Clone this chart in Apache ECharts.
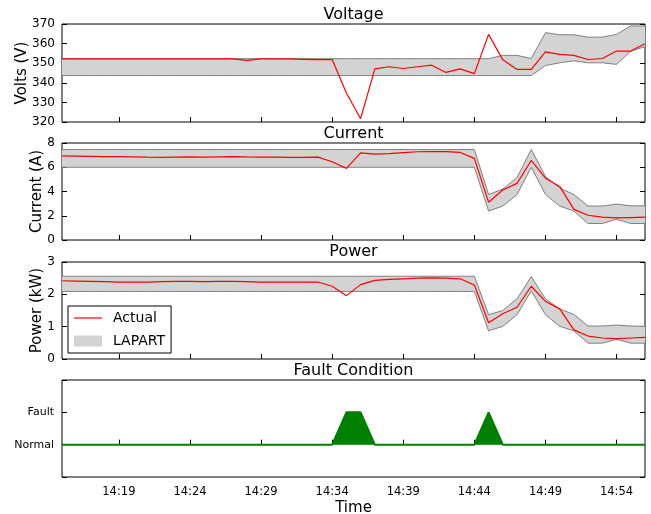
<!DOCTYPE html>
<html>
<head>
<meta charset="utf-8">
<script src="https://cdn.jsdelivr.net/npm/echarts@6/dist/echarts.min.js"></script>
<style>html,body{margin:0;padding:0;background:#fff;}#c{width:651px;height:514px;}</style>
</head>
<body>
<div id="c"></div>
<script>
var times = ["14:15","14:16","14:17","14:18","14:19","14:20","14:21","14:22","14:23","14:24","14:25","14:26","14:27","14:28","14:29","14:30","14:31","14:32","14:33","14:34","14:35","14:36","14:37","14:38","14:39","14:40","14:41","14:42","14:43","14:44","14:45","14:46","14:47","14:48","14:49","14:50","14:51","14:52","14:53","14:54","14:55","14:56"];

var voltageActual = [352.2,352.2,352.2,352.2,352.2,352.2,352.2,352.2,352.2,352.2,352.2,352.2,352.2,351.4,352.2,352.2,352.2,352.0,351.8,351.9,334.8,321.7,347.1,348.2,347.3,348.2,349.0,345.3,347.1,344.7,364.7,351.7,346.8,346.8,355.8,354.5,354.0,351.9,352.4,356.2,356.2,359.9];
var voltageUpper = [352.3,352.3,352.3,352.3,352.3,352.3,352.3,352.3,352.3,352.3,352.3,352.3,352.3,352.3,352.3,352.3,352.3,352.3,352.3,352.3,352.3,352.3,352.3,352.3,352.3,352.3,352.3,352.3,352.3,352.3,352.3,354.0,354.0,352.4,365.6,364.5,364.5,363.3,363.3,364.7,369.0,369.0];
var voltageLower = [343.7,343.7,343.7,343.7,343.7,343.7,343.7,343.7,343.7,343.7,343.7,343.7,343.7,343.7,343.7,343.7,343.7,343.7,343.7,343.7,343.7,343.7,343.7,343.7,343.7,343.7,343.7,343.7,343.7,343.7,343.7,343.7,343.7,343.7,348.8,350.2,351.2,350.2,350.2,349.4,356.2,358.4];

var currentActual = [6.94,6.92,6.90,6.88,6.87,6.85,6.83,6.82,6.84,6.85,6.84,6.86,6.87,6.85,6.84,6.83,6.82,6.82,6.84,6.45,5.91,7.19,7.08,7.13,7.21,7.28,7.29,7.29,7.22,6.73,3.12,4.12,4.67,6.56,5.10,4.42,2.53,2.04,1.88,1.82,1.85,1.88];
var currentUpper = [7.46,7.46,7.46,7.46,7.46,7.46,7.46,7.46,7.46,7.46,7.46,7.46,7.46,7.46,7.46,7.46,7.46,7.46,7.46,7.46,7.46,7.46,7.46,7.46,7.46,7.46,7.46,7.46,7.46,7.46,3.75,4.20,5.15,7.46,5.24,4.29,3.75,2.80,2.80,2.96,2.82,2.82];
var currentLower = [6.0,6.0,6.0,6.0,6.0,6.0,6.0,6.0,6.0,6.0,6.0,6.0,6.0,6.0,6.0,6.0,6.0,6.0,6.0,6.0,6.0,6.0,6.0,6.0,6.0,6.0,6.0,6.0,6.0,6.0,2.39,2.80,3.75,6.0,3.75,2.80,2.39,1.36,1.36,1.71,1.36,1.36];

var powerActual = [2.42,2.41,2.40,2.39,2.38,2.38,2.38,2.39,2.40,2.40,2.39,2.40,2.40,2.39,2.38,2.38,2.38,2.38,2.38,2.25,1.96,2.30,2.43,2.46,2.48,2.50,2.51,2.50,2.48,2.29,1.12,1.40,1.60,2.25,1.78,1.55,0.90,0.71,0.65,0.63,0.65,0.67];
var powerUpper = [2.56,2.56,2.56,2.56,2.56,2.56,2.56,2.56,2.56,2.56,2.56,2.56,2.56,2.56,2.56,2.56,2.56,2.56,2.56,2.56,2.56,2.56,2.56,2.56,2.56,2.56,2.56,2.56,2.56,2.56,1.37,1.50,1.86,2.55,1.86,1.55,1.38,1.02,1.02,1.05,1.02,1.01];
var powerLower = [2.09,2.09,2.09,2.09,2.09,2.09,2.09,2.09,2.09,2.09,2.09,2.09,2.09,2.09,2.09,2.09,2.09,2.09,2.09,2.09,2.09,2.09,2.09,2.09,2.09,2.09,2.09,2.09,2.09,2.09,0.87,1.01,1.37,2.11,1.37,1.01,0.87,0.49,0.49,0.61,0.49,0.49];

var faultState = [0,0,0,0,0,0,0,0,0,0,0,0,0,0,0,0,0,0,0,0,1,1,0,0,0,0,0,0,0,0,1,0,0,0,0,0,0,0,0,0,0,0];
var faultLabels = {"0":"Normal","1":"Fault"};

var panelTitles = ["Voltage","Current","Power","Fault Condition"];
var axisNames = ["Volts (V)","Current (A)","Power (kW)",""];
var yRanges = [[320,370,10],[0,8,2],[0,3,1],[-1,2,1]];

var FONT = "DejaVu Sans";
var tops = [24,143,262,380];
var heights = [98,97,97,97];
var titleTops = [7,126,244,363];
var nameGaps = [32,17,17,0];

function diff(a,b){return a.map(function(v,i){return +(v-b[i]).toFixed(3);});}

var grids = [], xAxes = [], yAxes = [], titles = [], series = [];
for (var g=0; g<4; g++){
  grids.push({left:62,right:6,top:tops[g],height:heights[g],show:true,borderColor:'#000',borderWidth:1,
    backgroundColor:'rgba(0,0,0,0)',outerBoundsMode:'none',containLabel:false});
  var last = g===3;
  xAxes.push({type:'category',gridIndex:g,data:times,boundaryGap:false,
    axisLine:{show:false},
    axisTick:{show:true,inside:true,length:5,lineStyle:{color:'#000'},interval:function(i){return (i-4)%5===0;}},
    axisLabel:{show:last,interval:function(i){return (i-4)%5===0;},color:'#000',fontFamily:FONT,fontSize:11.5,margin:9},
    splitLine:{show:false},
    name: last?'Time':'', nameLocation:'middle', nameGap:24, nameMoveOverlap:false,
    nameTextStyle:{fontFamily:FONT,fontSize:15,color:'#000'}
  });
  var r = yRanges[g];
  yAxes.push({type:'value',gridIndex:g,min:r[0],max:r[1],interval:r[2],position:'left',
    axisLine:{show:false},
    axisTick:{show:true,inside:true,length:5,lineStyle:{color:'#000'}},
    axisLabel:{color:'#000',fontFamily:FONT,fontSize:g===3?11:12,margin:g===3?8:7,
      formatter: g===3 ? function(v){return faultLabels[String(v)]||'';} : null},
    splitLine:{show:false},
    name:axisNames[g],nameLocation:'middle',nameGap:nameGaps[g],nameRotate:90,nameMoveOverlap:false,
    nameTextStyle:{fontFamily:FONT,fontSize:15,color:'#000'}
  });
  yAxes.push({type:'value',gridIndex:g,min:r[0],max:r[1],interval:r[2],position:'right',
    axisLine:{show:false},
    axisTick:{show:true,inside:true,length:5,lineStyle:{color:'#000'}},
    axisLabel:{show:false},splitLine:{show:false}
  });
  titles.push({text:panelTitles[g],left:353.5,textAlign:'center',top:titleTops[g],padding:0,
    textStyle:{fontFamily:FONT,fontSize:16,fontWeight:'normal',color:'#000'}});
}

function addBand(g, actual, upper, lower){
  var yi = g*2;
  series.push({type:'line',xAxisIndex:g,yAxisIndex:yi,data:lower,stack:'band'+g,symbol:'none',
    lineStyle:{width:0,opacity:0},silent:true,z:1,name:'_base'+g});
  series.push({type:'line',xAxisIndex:g,yAxisIndex:yi,data:diff(upper,lower),stack:'band'+g,symbol:'none',
    name:'LAPART',itemStyle:{color:'#d3d3d3'},lineStyle:{width:0,opacity:0},areaStyle:{color:'#d3d3d3',opacity:1},z:1,silent:true});
  series.push({type:'line',xAxisIndex:g,yAxisIndex:yi,data:upper,symbol:'none',lineStyle:{color:'#808080',width:1},z:3,silent:true,name:'_up'+g});
  series.push({type:'line',xAxisIndex:g,yAxisIndex:yi,data:lower,symbol:'none',lineStyle:{color:'#808080',width:1},z:3,silent:true,name:'_lo'+g});
  series.push({type:'line',xAxisIndex:g,yAxisIndex:yi,data:actual,symbol:'none',name:'Actual',
    itemStyle:{color:'#ff0000'},lineStyle:{color:'#ff0000',width:1.2},z:4,silent:true});
}
addBand(0, voltageActual, voltageUpper, voltageLower);
addBand(1, currentActual, currentUpper, currentLower);
addBand(2, powerActual, powerUpper, powerLower);

series.push({type:'line',xAxisIndex:3,yAxisIndex:6,data:faultState,symbol:'none',name:'_fault',
  lineStyle:{color:'#008000',width:2},itemStyle:{color:'#008000'},areaStyle:{color:'#008000',opacity:1,origin:0},z:3,silent:true});

var chart = echarts.init(document.getElementById('c'),null,{renderer:'canvas'});
chart.setOption({
  animation:false,
  backgroundColor:'#fff',
  title:titles,
  grid:grids,
  xAxis:xAxes,
  yAxis:yAxes,
  legend:{orient:'vertical',left:68,top:306,itemWidth:28,itemHeight:11,itemGap:9,
    padding:[5,6,5,6],borderColor:'#000',borderWidth:1,backgroundColor:'#fff',borderRadius:0,
    selectedMode:false,
    textStyle:{fontFamily:FONT,fontSize:14,color:'#000',padding:[0,0,0,6]},
    data:[{name:'Actual',icon:'path://M0,0M0,4.9L28,4.9L28,6.1L0,6.1ZM28,11',itemStyle:{color:'#ff0000'}},
          {name:'LAPART',icon:'rect',itemStyle:{color:'#d3d3d3'}}]},
  series:series
});
</script>
</body>
</html>
